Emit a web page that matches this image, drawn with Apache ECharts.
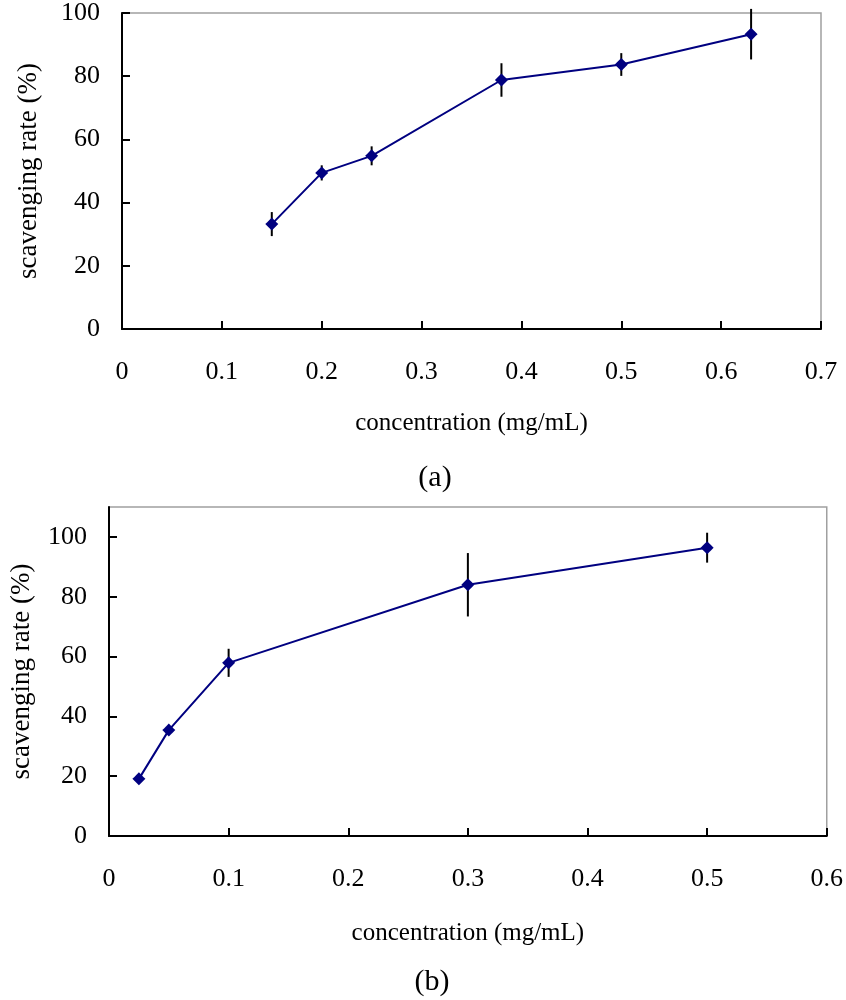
<!DOCTYPE html>
<html>
<head>
<meta charset="utf-8">
<script src="https://cdn.jsdelivr.net/npm/echarts@6/dist/echarts.min.js"></script>
<style>
html,body{margin:0;padding:0;background:#fff;}
#chart{width:846px;height:1000px;}
</style>
</head>
<body>
<div id="chart"></div>
<script>
// ---- data (a) ----
var concA = [0.15, 0.2, 0.25, 0.38, 0.5, 0.63];
var rateA = [33.2, 49.4, 54.8, 78.8, 83.7, 93.3];
var errA  = [3.8, 2.4, 3.0, 5.3, 3.6, 8.0];
// ---- data (b) ----
var concB = [0.025, 0.05, 0.1, 0.3, 0.5];
var rateB = [19.1, 35.4, 57.9, 84.0, 96.4];
var errB  = [1.3, 1.3, 4.7, 10.6, 5.0];
// ---- tick values ----
var yTicks = [0, 20, 40, 60, 80, 100];
var xNameText = 'concentration (mg/mL)';
var yNameText = 'scavenging rate (%)';
var captions = ['(a)', '(b)'];

var FONT = '"Liberation Serif", "Times New Roman", serif';
var NAVY = '#000080';

function pairs(xs, ys){ return xs.map(function(x,i){ return [x, ys[i]]; }); }
function errData(xs, ys, es){ return xs.map(function(x,i){ return [x, ys[i]-es[i], ys[i]+es[i]]; }); }

function xAxisCfg(gridIndex, max, gap){
  return {
    type:'value', gridIndex:gridIndex, min:0, max:max, interval:0.1,
    name:xNameText, nameLocation:'middle', nameGap:gap,
    nameTextStyle:{fontFamily:FONT, fontSize:25, color:'#000'},
    axisLine:{onZero:false, lineStyle:{color:'#000', width:2}},
    axisTick:{inside:true, length:8, lineStyle:{color:'#000', width:2}},
    axisLabel:{fontFamily:FONT, fontSize:26, color:'#000', margin:30},
    splitLine:{show:false}
  };
}
function yAxisCfg(gridIndex, max, gap){
  return {
    type:'value', gridIndex:gridIndex, min:0, max:max, interval:20,
    name:yNameText, nameLocation:'middle', nameGap:gap, nameRotate:90,
    nameTextStyle:{fontFamily:FONT, fontSize:27, color:'#000'},
    axisLine:{lineStyle:{color:'#000', width:2}},
    axisTick:{inside:true, length:8, lineStyle:{color:'#000', width:2}, customValues:yTicks},
    axisLabel:{fontFamily:FONT, fontSize:26, color:'#000', margin:22, customValues:yTicks},
    splitLine:{show:false}
  };
}
function errSeries(idx, data){
  return {
    type:'custom', xAxisIndex:idx, yAxisIndex:idx, data:data, clip:false, z:3,
    renderItem:function(params, api){
      var p1 = api.coord([api.value(0), api.value(1)]);
      var p2 = api.coord([api.value(0), api.value(2)]);
      return {type:'line', shape:{x1:p1[0], y1:p1[1], x2:p2[0], y2:p2[1]},
              style:{stroke:'#000', lineWidth:2}};
    }
  };
}
function lineSeries(idx, data){
  return {
    type:'line', xAxisIndex:idx, yAxisIndex:idx, data:data, z:4,
    symbol:'path://M0,-10 L7,-3 L10,0 L7,3 L0,10 L-7,3 L-10,0 L-7,-3 Z', symbolSize:13, showAllSymbol:true,
    lineStyle:{color:NAVY, width:2},
    itemStyle:{color:NAVY},
    emphasis:{disabled:true}, animation:false
  };
}

var chart = echarts.init(document.getElementById('chart'), null, {renderer:'canvas'});
chart.setOption({
  animation:false,
  backgroundColor:'#fff',
  grid:[
    {left:122, top:11, width:699, height:318, show:true, borderColor:'#a0a0a0', borderWidth:1.5, backgroundColor:'transparent'},
    {left:108, top:507, width:722, height:329, show:true, borderColor:'#a0a0a0', borderWidth:1.5, backgroundColor:'transparent'}
  ],
  xAxis:[ xAxisCfg(0, 0.7, 82), xAxisCfg(1, 0.6, 85) ],
  yAxis:[ yAxisCfg(0, 100, 80), yAxisCfg(1, 110, 74) ],
  title:[
    {text:captions[0], left:430, top:458, textAlign:'center', textStyle:{fontFamily:FONT, fontSize:30, fontWeight:'normal', color:'#000'}},
    {text:captions[1], left:427, top:962, textAlign:'center', textStyle:{fontFamily:FONT, fontSize:30, fontWeight:'normal', color:'#000'}}
  ],
  series:[
    errSeries(0, errData(concA, rateA, errA)),
    lineSeries(0, pairs(concA, rateA)),
    errSeries(1, errData(concB, rateB, errB)),
    lineSeries(1, pairs(concB, rateB))
  ]
});
</script>
</body>
</html>
